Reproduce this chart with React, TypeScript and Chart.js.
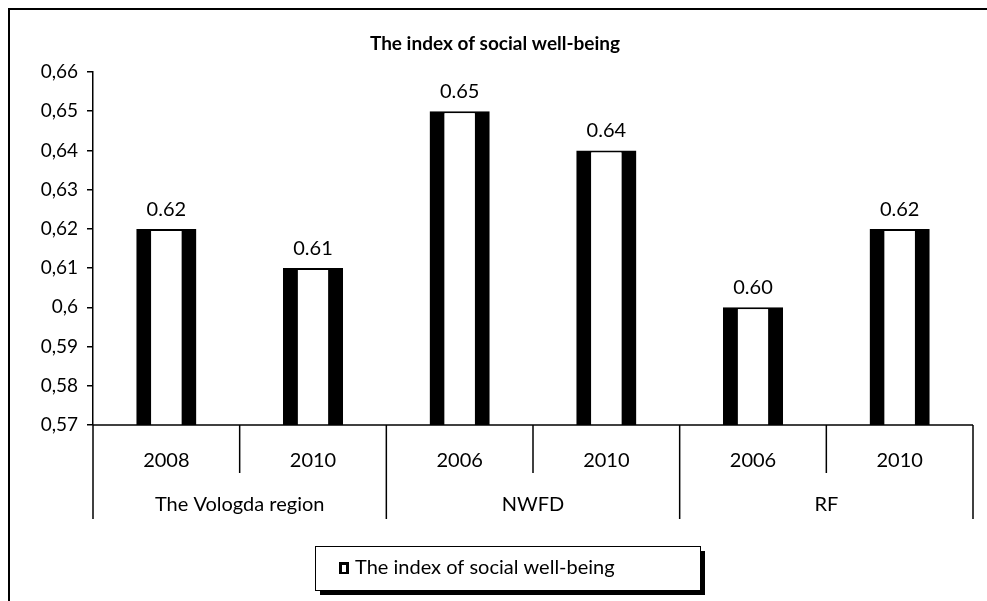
import React, { useEffect, useRef } from "react";
import { Chart, registerables } from "chart.js";

Chart.register(...registerables);

const groups = ["The Vologda region", "NWFD", "RF"];
const groupSizes = [2, 2, 2];
const years = ["2008", "2010", "2006", "2010", "2006", "2010"];
const values = [0.62, 0.61, 0.65, 0.64, 0.6, 0.62];
const yMin = 0.57;
const yMax = 0.66;
const yStep = 0.01;
const titleText = "The index of social well-being";
const seriesName = "The index of social well-being";

const FONT = "Lato, 'Open Sans', sans-serif";

const decorPlugin = {
  id: "decor",
  afterDraw(chart: any) {
    const ctx = chart.ctx as CanvasRenderingContext2D;
    const area = chart.chartArea;
    const xs = chart.scales.x;
    const n = years.length;
    const slot = (area.right - area.left) / n;
    ctx.save();
    // outer frame
    ctx.strokeStyle = "#000";
    ctx.lineWidth = 2;
    ctx.beginPath();
    ctx.moveTo(9, chart.height);
    ctx.lineTo(9, 9);
    ctx.lineTo(chart.width, 9);
    ctx.stroke();

    // title
    ctx.fillStyle = "#000";
    ctx.font = `bold 19px ${FONT}`;
    ctx.textAlign = "center";
    ctx.textBaseline = "middle";
    ctx.fillText(titleText, 495, 44);

    // x axis line
    ctx.lineWidth = 1.5;
    ctx.beginPath();
    ctx.moveTo(area.left, area.bottom);
    ctx.lineTo(area.right, area.bottom);
    ctx.stroke();

    // category separators
    const groupBounds = new Set<number>();
    let acc = 0;
    groupBounds.add(0);
    groupSizes.forEach((s) => {
      acc += s;
      groupBounds.add(acc);
    });
    for (let b = 0; b <= n; b++) {
      const px =
        b < n ? xs.getPixelForValue(b) - slot / 2 : xs.getPixelForValue(n - 1) + slot / 2;
      const len = groupBounds.has(b) ? 94 : 48;
      ctx.beginPath();
      ctx.moveTo(px, area.bottom);
      ctx.lineTo(px, area.bottom + len);
      ctx.stroke();
    }

    // year labels
    ctx.font = `20px ${FONT}`;
    years.forEach((y, i) => {
      ctx.fillText(y, xs.getPixelForValue(i), area.bottom + 36);
    });
    // group labels
    let start = 0;
    groups.forEach((g, gi) => {
      const s = groupSizes[gi];
      const l = xs.getPixelForValue(start) - slot / 2;
      const r = xs.getPixelForValue(start + s - 1) + slot / 2;
      ctx.fillText(g, (l + r) / 2, area.bottom + 80);
      start += s;
    });

    // data labels
    const meta = chart.getDatasetMeta(0);
    ctx.font = `20px ${FONT}`;
    ctx.textBaseline = "alphabetic";
    meta.data.forEach((el: any, i: number) => {
      ctx.fillText(values[i].toFixed(2), el.x, el.y - 13);
    });

    // legend
    const lx = 315, ly = 546, lw = 385, lh = 44;
    ctx.fillStyle = "#000";
    ctx.fillRect(lx + 5, ly + 5, lw, lh);
    ctx.fillStyle = "#fff";
    ctx.fillRect(lx, ly, lw, lh);
    ctx.strokeStyle = "#000";
    ctx.lineWidth = 1;
    ctx.strokeRect(lx + 0.5, ly + 0.5, lw, lh);
    ctx.fillStyle = "#000";
    ctx.fillRect(lx + 24, ly + 16, 10, 12);
    ctx.fillStyle = "#fff";
    ctx.fillRect(lx + 27, ly + 19, 4, 7);
    ctx.fillStyle = "#000";
    ctx.font = `20px ${FONT}`;
    ctx.textAlign = "left";
    ctx.textBaseline = "middle";
    ctx.fillText(seriesName, lx + 40, ly + 22);
    ctx.restore();
  },
};

export default function App() {
  const ref = useRef<HTMLCanvasElement | null>(null);
  useEffect(() => {
    document.body.style.margin = "0";
    if (!ref.current) return;
    const chart = new Chart(ref.current, {
      type: "bar",
      data: {
        labels: years,
        datasets: [
          {
            label: seriesName,
            data: values,
            backgroundColor: "#fff",
            borderColor: "#000",
            borderWidth: { left: 15, right: 15, top: 2, bottom: 0 },
            borderSkipped: false,
            barPercentage: 0.82,
            categoryPercentage: 0.5,
          },
        ],
      },
      options: {
        animation: false,
        responsive: false,
        devicePixelRatio: 1,
        layout: { padding: { left: 0, top: 72, right: 14, bottom: 176 } },
        plugins: { legend: { display: false }, tooltip: { enabled: false }, title: { display: false } },
        scales: {
          x: { display: false, offset: true },
          y: {
            min: yMin,
            max: yMax,
            afterFit(scale: any) {
              scale.width = 93;
            },
            ticks: {
              stepSize: yStep,
              color: "#000",
              font: { family: FONT, size: 19 },
              padding: 9,
              callback: (v: any) => String(Number(Number(v).toFixed(2))).replace(".", ","),
            },
            grid: { drawOnChartArea: false, drawTicks: true, tickLength: 6, color: "#000", lineWidth: 1.5 },
            border: { color: "#000", width: 1.5 },
          },
        },
      },
      plugins: [decorPlugin],
    });
    return () => chart.destroy();
  }, []);
  return <canvas ref={ref} width={987} height={601} style={{ display: "block" }} />;
}
